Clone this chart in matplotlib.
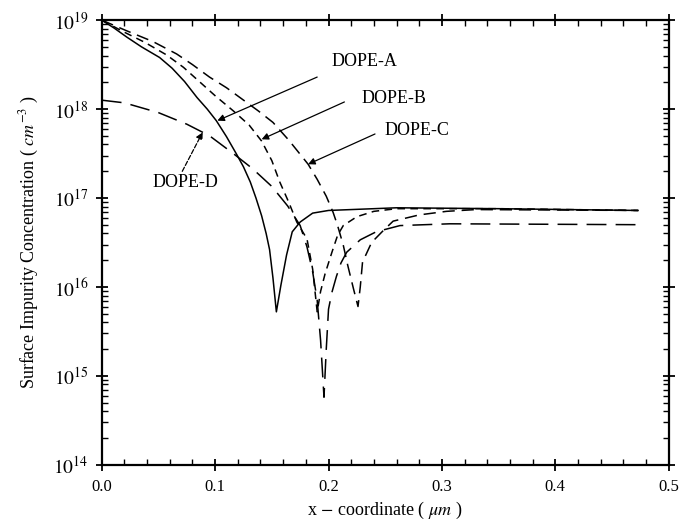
import numpy as np
import matplotlib.pyplot as plt
from matplotlib.ticker import MultipleLocator, LogLocator, FixedLocator, NullFormatter

plt.rcParams['font.family'] = ['Liberation Serif', 'DejaVu Serif']
plt.rcParams['mathtext.fontset'] = 'stix'

# net impurity concentration profiles, x in um, values as log10(cm^-3)
x_a = [0.0, 0.011, 0.022, 0.035, 0.051, 0.062, 0.073, 0.084, 0.093, 0.101,
       0.110, 0.119, 0.125, 0.131, 0.136, 0.141, 0.145, 0.148, 0.151, 0.154,
       0.158, 0.163, 0.168, 0.175, 0.186, 0.20, 0.26, 0.35, 0.473]
log_a = [19.0, 18.91, 18.81, 18.70, 18.58, 18.46, 18.31, 18.13, 18.00, 17.87,
         17.69, 17.49, 17.35, 17.18, 17.00, 16.80, 16.60, 16.42, 16.10, 15.72,
         16.02, 16.36, 16.62, 16.73, 16.83, 16.86, 16.89, 16.88, 16.86]

x_b = [0.0, 0.019, 0.038, 0.057, 0.072, 0.086, 0.100, 0.116, 0.130, 0.141,
       0.150, 0.157, 0.165, 0.172, 0.181, 0.186, 0.190, 0.193, 0.197, 0.203,
       0.208, 0.213, 0.225, 0.24, 0.26, 0.35, 0.473]
log_b = [19.0, 18.87, 18.75, 18.61, 18.47, 18.31, 18.15, 17.98, 17.82, 17.64,
         17.42, 17.18, 16.95, 16.73, 16.54, 16.20, 15.72, 15.95, 16.15, 16.39,
         16.58, 16.69, 16.79, 16.85, 16.88, 16.88, 16.86]

x_c = [0.0, 0.022, 0.045, 0.066, 0.080, 0.095, 0.110, 0.124, 0.138, 0.151,
       0.165, 0.182, 0.190, 0.198, 0.204, 0.208, 0.213, 0.217, 0.222, 0.226,
       0.228, 0.230, 0.238, 0.248, 0.257, 0.28, 0.304, 0.33, 0.473]
log_c = [19.0, 18.88, 18.76, 18.62, 18.50, 18.36, 18.24, 18.11, 17.98, 17.85,
         17.65, 17.38, 17.21, 17.02, 16.84, 16.69, 16.47, 16.24, 15.98, 15.78,
         16.00, 16.28, 16.50, 16.63, 16.74, 16.81, 16.85, 16.87, 16.86]

x_d = [0.0, 0.02, 0.05, 0.075, 0.095, 0.116, 0.133, 0.150, 0.164, 0.175,
       0.181, 0.186, 0.190, 0.193, 0.196, 0.198, 0.200, 0.203, 0.207, 0.211,
       0.216, 0.228, 0.242, 0.263, 0.307, 0.473]
log_d = [18.10, 18.07, 17.96, 17.83, 17.70, 17.50, 17.33, 17.13, 16.91, 16.69,
         16.45, 16.17, 15.85, 15.40, 14.76, 15.30, 15.75, 15.94, 16.12, 16.27,
         16.39, 16.53, 16.62, 16.69, 16.71, 16.70]

# label text position, arrow tail, arrow tip (x, log10 y)
labels = ['DOPE-A', 'DOPE-B', 'DOPE-C', 'DOPE-D']
text_pos = [(0.203, 18.54), (0.229, 18.12), (0.249, 17.76), (0.045, 17.17)]
arrow_tail = [(0.190, 18.36), (0.214, 18.08), (0.241, 17.72), (0.071, 17.30)]
arrow_tip = [(0.102, 17.87), (0.141, 17.66), (0.182, 17.38), (0.089, 17.74)]

fig = plt.figure(figsize=(6.83, 5.30), dpi=100)
ax = fig.add_axes([0.149, 0.123, 0.830, 0.839])

ax.plot(x_a, 10 ** np.array(log_a), color='black', lw=1.1)
ax.plot(x_b, 10 ** np.array(log_b), color='black', lw=1.1, dashes=(5, 3.5))
ax.plot(x_c, 10 ** np.array(log_c), color='black', lw=1.1, dashes=(8, 4.5))
ax.plot(x_d, 10 ** np.array(log_d), color='black', lw=1.1, dashes=(13, 6))

for i in range(len(labels)):
    ax.text(text_pos[i][0], 10 ** text_pos[i][1], labels[i], fontsize=13,
            ha='left', va='center')
    ls = '--' if i == 3 else '-'
    ax.annotate('', xy=(arrow_tip[i][0], 10 ** arrow_tip[i][1]),
                xytext=(arrow_tail[i][0], 10 ** arrow_tail[i][1]),
                arrowprops=dict(arrowstyle='-|>', color='black', lw=0.9,
                                linestyle=ls, mutation_scale=10, shrinkA=0, shrinkB=0))

ax.set_yscale('log')
ax.set_xlim(0.0, 0.5)
ax.set_ylim(1e14, 1e19)

ax.set_xticks([0.0, 0.1, 0.2, 0.3, 0.4, 0.5])
ax.set_xticklabels(['0.0', '0.1', '0.2', '0.3', '0.4', '0.5'])
ax.xaxis.set_minor_locator(MultipleLocator(0.02))
ax.yaxis.set_major_locator(FixedLocator([1e14, 1e15, 1e16, 1e17, 1e18, 1e19]))
ax.yaxis.set_minor_locator(LogLocator(base=10, subs=np.arange(2, 10)))
ax.yaxis.set_minor_formatter(NullFormatter())
ax.set_yticklabels([r'$10^{14}$', r'$10^{15}$', r'$10^{16}$', r'$10^{17}$',
                    r'$10^{18}$', r'$10^{19}$'], fontsize=14)

ax.tick_params(which='major', direction='inout', length=9, width=1.3,
               top=True, right=True, labelsize=12, pad=6)
ax.tick_params(axis='y', which='major', labelsize=14, pad=5)
ax.tick_params(which='minor', direction='in', length=4, width=1.0,
               top=True, right=True)
for s in ax.spines.values():
    s.set_linewidth(1.6)

ax.set_xlabel(r'x $-$ coordinate ( $\mu m$ )', fontsize=13, labelpad=3)
ax.set_ylabel(r'Surface Impurity Concentration ( $cm^{-3}$ )', fontsize=13,
              labelpad=9)

fig.savefig('out.png', dpi=100)
